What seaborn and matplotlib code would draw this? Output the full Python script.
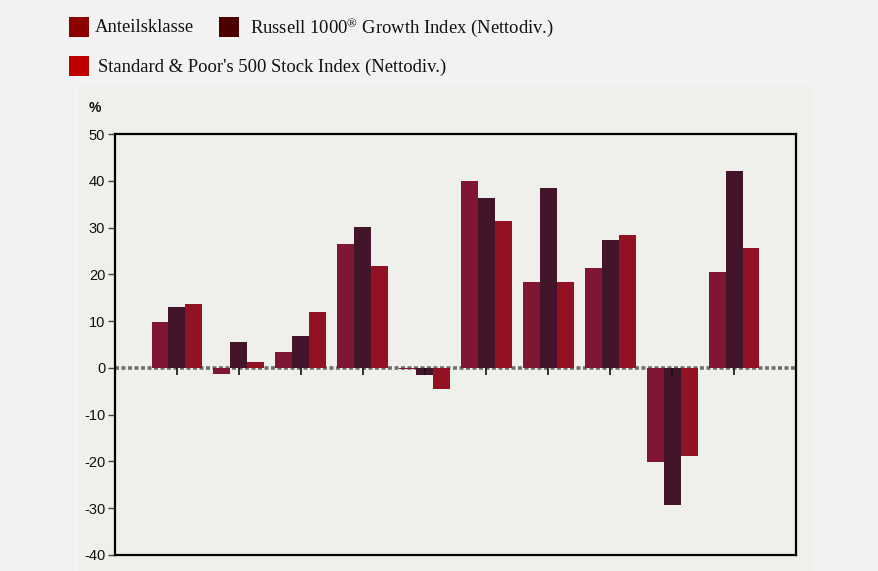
import matplotlib
matplotlib.use("Agg")
import matplotlib.pyplot as plt
from matplotlib.patches import Rectangle
import pandas as pd
import seaborn as sns

# Calendar-year returns, ten consecutive periods
periods = list(range(1, 11))
series_names = [
    "Anteilsklasse",
    "Russell 1000® Growth Index (Nettodiv.)",
    "Standard & Poor's 500 Stock Index (Nettodiv.)",
]
share_class = [9.8, -1.4, 3.4, 26.5, -0.3, 40.0, 18.4, 21.4, -20.2, 20.5]
russell_1000_growth = [13.0, 5.6, 6.8, 30.1, -1.6, 36.3, 38.5, 27.4, -29.4, 42.1]
sp500 = [13.7, 1.3, 12.0, 21.8, -4.6, 31.4, 18.4, 28.4, -18.8, 25.7]
y_ticks = [-40, -30, -20, -10, 0, 10, 20, 30, 40, 50]

bar_colors = ["#7f1734", "#43152a", "#921224"]
legend_colors = ["#8b0000", "#4d0000", "#c00000"]

df = pd.DataFrame({
    "period": periods * 3,
    "series": [series_names[0]] * 10 + [series_names[1]] * 10 + [series_names[2]] * 10,
    "value": share_class + russell_1000_growth + sp500,
})

sns.set_theme(style="ticks")
plt.rcParams["font.family"] = ["Liberation Sans", "DejaVu Sans"]
plt.rcParams["axes.unicode_minus"] = False
plt.rcParams["mathtext.fontset"] = "custom"
plt.rcParams["mathtext.rm"] = "Liberation Serif"
plt.rcParams["mathtext.it"] = "Liberation Serif:italic"

fig = plt.figure(figsize=(8.79, 5.71), dpi=100, facecolor="#f2f2f2")
W, H = 879, 571

# light inner panel behind the chart
fig.add_artist(Rectangle((79 / W, 0), (812 - 79) / W, (H - 86) / H,
                         transform=fig.transFigure, facecolor="#efefeb",
                         edgecolor="none", zorder=0))

ax = fig.add_axes([115 / W, 16 / H, 681 / W, 421 / H])
ax.set_facecolor("#efefeb")

ax.axhline(0, color="#6e6e6e", lw=2.6, ls=(0, (1.1, 0.7)), zorder=0.5)

sns.barplot(data=df, x="period", y="value", hue="series", hue_order=series_names,
            palette=bar_colors, saturation=1, width=0.82, gap=0,
            legend=False, ax=ax, zorder=2, linewidth=0, errorbar=None)

ax.set_xlim(-1, 10)
ax.set_ylim(-40, 50)
ax.set_yticks(y_ticks)
ax.set_yticklabels([str(v) for v in y_ticks])
ax.set_xlabel("")
ax.set_ylabel("")
ax.set_xticks([])
ax.tick_params(axis="y", direction="out", length=5, width=1, color="#444444",
               labelsize=10.5, labelcolor="#111111", pad=2)
for s in ax.spines.values():
    s.set_visible(True)
    s.set_color("black")
    s.set_linewidth(1.6)

# category ticks hanging from the zero line
zero_frac = 40 / 90
sec = ax.secondary_xaxis(zero_frac)
sec.set_xticks(range(10))
sec.set_xticklabels([])
sec.tick_params(axis="x", direction="out", length=5, width=1.2, color="#111111")
sec.spines["bottom"].set_visible(False)
sec.set_zorder(5)

fig.text(89 / W, 1 - 108 / H, "%", fontsize=10, fontweight="bold",
         va="center", ha="left", color="#111111")

# legend laid out in two rows
legend_boxes = [(69, 17, legend_colors[0]), (219, 17, legend_colors[1]),
                (69, 56, legend_colors[2])]
for x0, y0, col in legend_boxes:
    fig.add_artist(Rectangle((x0 / W, 1 - (y0 + 20) / H), 20 / W, 20 / H,
                             transform=fig.transFigure, facecolor=col,
                             edgecolor="none"))
serif = ["Liberation Serif", "DejaVu Serif"]
fs = 13.4
fig.text(95 / W, 1 - 28 / H, series_names[0], fontsize=fs, family=serif,
         va="center", ha="left", color="#111111")
fig.text(250 / W, 1 - 28 / H, "Russell 1000$^{\\mathrm{®}}$ Growth Index (Nettodiv.)",
         fontsize=fs, family=serif, va="center", ha="left", color="#111111")
fig.text(98 / W, 1 - 67 / H, series_names[2], fontsize=fs, family=serif,
         va="center", ha="left", color="#111111")

fig.savefig("out.png", dpi=100, facecolor=fig.get_facecolor())
